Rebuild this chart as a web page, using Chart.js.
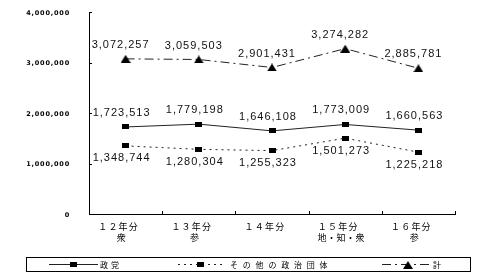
<!DOCTYPE html>
<html>
<head>
<meta charset="utf-8">
<script src="https://cdn.jsdelivr.net/npm/chart.js@4"></script>
<style>
html,body{margin:0;padding:0;background:#fff;}
#wrap{width:500px;height:276px;}
</style>
</head>
<body>
<div id="wrap"><canvas id="c" width="500" height="276"></canvas></div>
<script>
const yearLabels = ['１２年分', '１３年分', '１４年分', '１５年分', '１６年分'];
const electionLabels = ['衆', '参', '', '地・知・衆', '参'];
const seriesNames = ['政党', 'その他の政治団体', '計'];
const party = [1723513, 1779198, 1646108, 1773009, 1660563];
const others = [1348744, 1280304, 1255323, 1501273, 1225218];
const total = [3072257, 3059503, 2901431, 3274282, 2885781];
const yTickValues = [0, 1000000, 2000000, 3000000, 4000000];

const categories = yearLabels.map((y, i) => [y, electionLabels[i]]);

function fmt(v) { return v.toLocaleString('en-US'); }

function makeRect() {
  const c = document.createElement('canvas'); c.width = 7; c.height = 5;
  const g = c.getContext('2d'); g.fillStyle = '#000'; g.fillRect(0, 0, 7, 5); return c;
}
function makeTri() {
  const c = document.createElement('canvas'); c.width = 10; c.height = 8;
  const g = c.getContext('2d'); g.fillStyle = '#000';
  g.beginPath(); g.moveTo(5, 0); g.lineTo(10, 8); g.lineTo(0, 8); g.closePath(); g.fill(); return c;
}
const rectImg = makeRect();
const triImg = makeTri();

const decoPlugin = {
  id: 'deco',
  afterDatasetsDraw(chart) {
    const ctx = chart.ctx;
    const area = chart.chartArea;
    const xs = chart.scales.x, ys = chart.scales.y;
    ctx.save();
    // inner tick marks
    ctx.strokeStyle = '#000'; ctx.lineWidth = 1;
    yTickValues.forEach(v => {
      const y = Math.round(ys.getPixelForValue(v)) + 0.5;
      ctx.beginPath(); ctx.moveTo(area.left, y); ctx.lineTo(area.left + 3, y); ctx.stroke();
    });
    const n = categories.length;
    for (let i = 1; i <= n; i++) {
      const x = Math.round(area.left + (area.right - area.left) * i / n) + 0.5;
      ctx.beginPath(); ctx.moveTo(x, area.bottom); ctx.lineTo(x, area.bottom - 3); ctx.stroke();
    }
    // y tick labels
    ctx.fillStyle = '#000';
    ctx.font = 'bold 6.5px "DejaVu Sans", sans-serif';
    ctx.letterSpacing = '0.8px';
    ctx.textAlign = 'right';
    ctx.textBaseline = 'middle';
    yTickValues.forEach(v => {
      ctx.fillText(fmt(v), area.left - 19, ys.getPixelForValue(v) + 1);
    });
    // x tick labels
    ctx.font = '9px "Noto Sans CJK JP", sans-serif';
    ctx.textAlign = 'center';
    categories.forEach((lines, i) => {
      const x = xs.getPixelForValue(i);
      ctx.letterSpacing = '1.2px';
      ctx.fillText(lines[0], x - 7, area.bottom + 13);
      ctx.letterSpacing = '0.5px';
      ctx.fillText(lines[1], x - 4, area.bottom + 24);
    });
    // data labels
    ctx.fillStyle = '#111';
    ctx.font = '11px "Liberation Sans", Arial, sans-serif';
    ctx.letterSpacing = '1px';
    ctx.textAlign = 'center';
    ctx.textBaseline = 'middle';
    const offs = [[-4, -14], [-4, 12.5], [-5, -14]];
    chart.data.datasets.forEach((ds, di) => {
      const meta = chart.getDatasetMeta(di);
      meta.data.forEach((pt, j) => {
        ctx.fillText(fmt(ds.data[j]), pt.x + offs[di][0], pt.y + offs[di][1]);
      });
    });
    ctx.restore();
  },
  afterDraw(chart) {
    const ctx = chart.ctx;
    ctx.save();
    // legend box
    ctx.strokeStyle = '#000'; ctx.lineWidth = 1;
    ctx.strokeRect(26.5, 257.5, 444, 14);
    const ly = 264.5;
    const items = [
      { x1: 49, x2: 98, mx: 73, tx: 100, dash: [], img: rectImg, sp: '3px' },
      { x1: 178, x2: 224, mx: 200, tx: 230, dash: [2, 4], img: rectImg, sp: '4.8px' },
      { x1: 382, x2: 432, mx: 408, tx: 433, dash: [9, 4, 2, 4], img: triImg, sp: '0px' }
    ];
    items.forEach((it, i) => {
      ctx.strokeStyle = '#222';
      ctx.setLineDash(it.dash);
      ctx.beginPath(); ctx.moveTo(it.x1, ly); ctx.lineTo(it.x2, ly); ctx.stroke();
      ctx.setLineDash([]);
      ctx.drawImage(it.img, Math.round(it.mx - it.img.width / 2), Math.round(ly - it.img.height / 2));
      ctx.fillStyle = '#000';
      ctx.font = '8px "Noto Sans CJK JP", sans-serif';
      ctx.letterSpacing = it.sp;
      ctx.textAlign = 'left';
      ctx.textBaseline = 'middle';
      ctx.fillText(seriesNames[i], it.tx, ly);
    });
    ctx.restore();
  }
};

new Chart(document.getElementById('c'), {
  type: 'line',
  data: {
    labels: categories,
    datasets: [
      { label: seriesNames[0], data: party, borderColor: '#222', borderWidth: 1, pointStyle: rectImg, backgroundColor: '#000' },
      { label: seriesNames[1], data: others, borderColor: '#222', borderWidth: 1, borderDash: [2, 4], pointStyle: rectImg, backgroundColor: '#000' },
      { label: seriesNames[2], data: total, borderColor: '#222', borderWidth: 1, borderDash: [9, 4, 2, 4], pointStyle: triImg, backgroundColor: '#000' }
    ]
  },
  options: {
    responsive: false,
    animation: false,
    devicePixelRatio: 1,
    layout: { padding: { top: 12, right: 45, left: 0, bottom: 0 } },
    plugins: { legend: { display: false }, tooltip: { enabled: false } },
    elements: { line: { tension: 0 } },
    scales: {
      x: {
        offset: true,
        grid: { display: false, drawTicks: false },
        border: { color: '#000', width: 1 },
        ticks: { display: false },
        afterFit(s) { s.height = 62; }
      },
      y: {
        min: 0, max: 4000000,
        grid: { display: false, drawTicks: false },
        border: { color: '#000', width: 1 },
        afterBuildTicks(s) { s.ticks = yTickValues.map(v => ({ value: v })); },
        ticks: { display: false },
        afterFit(s) { s.width = 89; }
      }
    }
  },
  plugins: [decoPlugin]
});
</script>
</body>
</html>
